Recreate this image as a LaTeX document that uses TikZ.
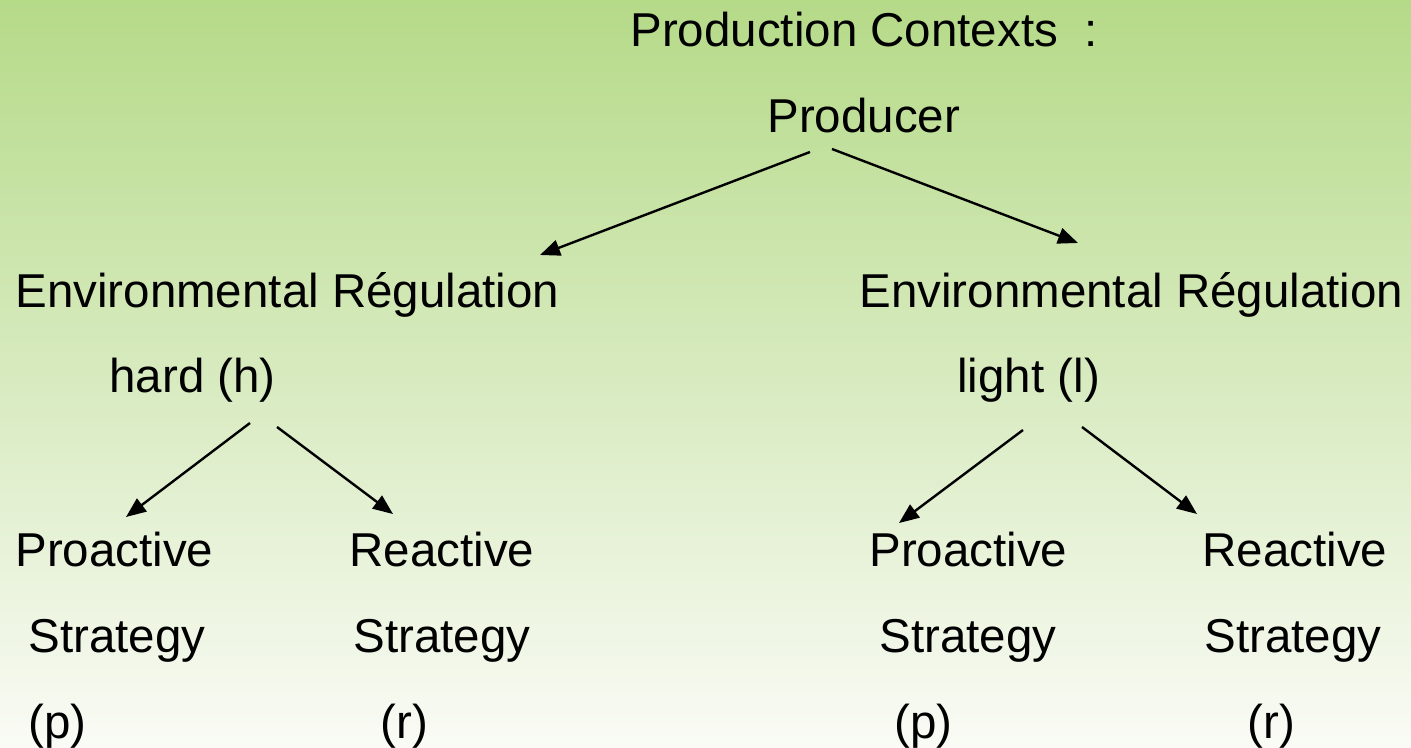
\documentclass[tikz,border=0pt]{standalone}
\usepackage{fontspec}
\setmainfont{Liberation Sans}
\usetikzlibrary{arrows.meta,calc}

\definecolor{bgtop}{RGB}{181,218,136}
\definecolor{bgmid}{RGB}{222,236,204}
\definecolor{bgbot}{RGB}{250,251,246}

\begin{document}
\begin{tikzpicture}[x=0.5pt,y=-0.5pt,
    every node/.style={anchor=base west,inner sep=0pt,font=\fontsize{23.75}{28}\selectfont},
    arr/.style={-{Triangle[length=10pt,width=8pt]},line width=1.2pt}]
    \useasboundingbox (0,0) rectangle (1411,748);
    \shade[top color=bgtop,middle color=bgmid,bottom color=bgbot] (0,0) rectangle (1411,748);
    % Producer ==============================================
    \node (T)    at (630,47)  {Production Contexts~~:};
    \node (P)    at (767,133) {Producer};
    \node (ER1)  at (15,307)  {Environmental Régulation};
    \node (ER2)  at (859,307) {Environmental Régulation};
    \draw[arr] ($(P.base west)+(43,19)$) -- ($(ER1.base west)+(525,-52)$);
    \draw[arr] ($(P.base west)+(65,16)$) -- ($(ER2.base west)+(219,-64)$);
    % hard ==================================================
    \node (H)    at (109,392) {hard (h)};
    \node (Pro1) at (15,566)  {Proactive};
    \node (Str1) at (28,652)  {Strategy};
    \node (p1)   at (28,738)  {(p)};
    \node (Rea1) at (349,566) {Reactive};
    \node (Str2) at (353,652) {Strategy};
    \node (r1)   at (380,738) {(r)};
    \draw[arr] ($(H.base west)+(141,31)$) -- ($(Pro1.base west)+(111,-49)$);
    \draw[arr] ($(H.base west)+(168,35)$) -- ($(Rea1.base west)+(44,-52)$);
    % light =================================================
    \node (L)    at (957,392)  {light (l)};
    \node (Pro2) at (869,566)  {Proactive};
    \node (Str3) at (879,652)  {Strategy};
    \node (p2)   at (894,738)  {(p)};
    \node (Rea2) at (1202,566) {Reactive};
    \node (Str4) at (1204,652) {Strategy};
    \node (r2)   at (1247,738) {(r)};
    \draw[arr] ($(L.base west)+(66,38)$) -- ($(Pro2.base west)+(30,-43)$);
    \draw[arr] ($(L.base west)+(125,35)$) -- ($(Rea2.base west)+(-5,-52)$);
\end{tikzpicture}
\end{document}
